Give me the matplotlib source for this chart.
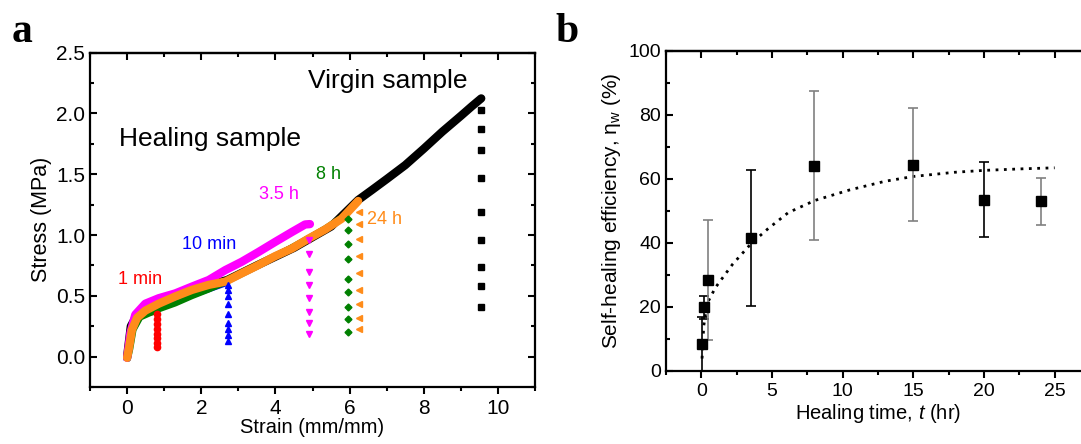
import matplotlib
matplotlib.use('Agg')
import matplotlib.pyplot as plt
from matplotlib.ticker import MultipleLocator
import numpy as np

plt.rcParams['font.family'] = ['Liberation Sans', 'DejaVu Sans']
plt.rcParams['mathtext.fontset'] = 'custom'
plt.rcParams['mathtext.rm'] = 'Liberation Sans'
plt.rcParams['mathtext.it'] = 'Liberation Sans:italic'

# ---- panel a: stress-strain curves ----
virgin_x = [0.0, 0.1, 0.3, 0.6, 1.0, 2.0, 2.7, 3.5, 4.5, 5.5, 6.23, 6.6, 7.0, 7.5, 8.0, 8.5, 9.0, 9.3, 9.55]
virgin_y = [0.0, 0.25, 0.36, 0.42, 0.47, 0.57, 0.63, 0.75, 0.895, 1.07, 1.288, 1.37, 1.46, 1.575, 1.71, 1.85, 1.98, 2.06, 2.124]

blue_x = [-0.05, 0.09, 0.22, 0.49, 0.85, 1.75, 2.65, 2.72]
blue_y = [-0.02, 0.11, 0.277, 0.359, 0.40, 0.495, 0.59, 0.603]

red_x = [0.0, 0.09, 0.22, 0.49, 0.80]
red_y = [-0.01, 0.14, 0.29, 0.345, 0.364]

green_x = [0.03, 0.09, 0.18, 0.36, 0.85, 1.3, 1.75, 2.2, 2.65, 3.09, 3.54, 3.99, 4.44, 4.89, 5.34, 5.78, 6.05]
green_y = [-0.02, 0.06, 0.22, 0.32, 0.386, 0.435, 0.495, 0.549, 0.609, 0.685, 0.761, 0.826, 0.902, 0.978, 1.057, 1.147, 1.228]

magenta_x = [0.0, 0.09, 0.22, 0.49, 0.85, 1.3, 1.75, 2.2, 2.65, 3.09, 3.54, 3.99, 4.44, 4.8, 4.93]
magenta_y = [-0.01, 0.196, 0.345, 0.435, 0.48, 0.52, 0.576, 0.63, 0.712, 0.78, 0.86, 0.943, 1.024, 1.087, 1.09]

orange_x = [0.0, 0.06, 0.13, 0.27, 0.49, 0.85, 1.3, 1.75, 2.2, 2.65, 3.09, 3.54, 3.99, 4.44, 4.89, 5.34, 5.78, 6.23]
orange_y = [-0.01, 0.087, 0.22, 0.32, 0.378, 0.435, 0.495, 0.549, 0.59, 0.617, 0.685, 0.753, 0.826, 0.889, 0.97, 1.046, 1.133, 1.28]

# stress drop after fracture
drop_virgin = [2.03, 1.87, 1.70, 1.47, 1.19, 0.96, 0.74, 0.58, 0.41]
drop_1min = [0.35, 0.31, 0.27, 0.23, 0.19, 0.15, 0.11, 0.08]
drop_10min = [0.59, 0.55, 0.50, 0.43, 0.35, 0.28, 0.23, 0.18, 0.13]
drop_35h = [0.96, 0.84, 0.70, 0.59, 0.48, 0.37, 0.28, 0.19]
drop_8h = [1.13, 1.04, 0.93, 0.80, 0.64, 0.53, 0.41, 0.31, 0.20]
drop_24h = [1.19, 1.09, 0.97, 0.83, 0.69, 0.55, 0.43, 0.32, 0.23]
drop_strain = {'virgin': 9.55, '1min': 0.80, '10min': 2.72, '35h': 4.9, '8h': 5.95, '24h': 6.25}

# ---- panel b: healing efficiency ----
heal_t = [1/60, 10/60, 0.5, 3.5, 8, 15, 20, 24]
heal_eff = [8.4, 19.8, 28.3, 41.5, 64.1, 64.4, 53.5, 52.9]
heal_err = [8.4, 3.6, 18.7, 21.2, 23.4, 17.7, 11.6, 7.3]
err_colors = ['black', 'black', 'gray', 'black', 'gray', 'gray', 'black', 'gray']

fit_t = [0.05, 0.17, 0.41, 1.0, 2.2, 3.54, 4.7, 6.15, 8.03, 10.5, 13, 15, 17.9, 20, 22.8, 25]
fit_eff = [3.8, 14, 21, 26, 33.2, 39.8, 44.3, 49.4, 53.2, 56.5, 59.2, 60.7, 62, 62.6, 63.1, 63.4]

RED, BLUE, MAG, GREEN, ORANGE = '#ff0000', '#0000ff', '#ff00ff', '#008000', '#ff8c1a'

fig = plt.figure(figsize=(10.81, 4.44), dpi=100)

# panel a
ax = fig.add_axes([0.0833, 0.1284, 0.4116, 0.7529])
ax.plot(virgin_x, virgin_y, color='black', lw=6, solid_capstyle='round', solid_joinstyle='round')
ax.plot(blue_x, blue_y, color=BLUE, lw=2.5)
ax.plot(red_x, red_y, color=RED, lw=3)
ax.plot(green_x, green_y, color=GREEN, lw=4, solid_capstyle='round')
ax.plot(magenta_x, magenta_y, color=MAG, lw=6, solid_capstyle='round')
ax.plot(orange_x, orange_y, color=ORANGE, lw=6, solid_capstyle='round')

ax.plot([drop_strain['virgin']] * len(drop_virgin), drop_virgin, 's', color='black', ms=4)
ax.plot([drop_strain['1min']] * len(drop_1min), drop_1min, 'o', color=RED, ms=4.5)
ax.plot([drop_strain['10min']] * len(drop_10min), drop_10min, '^', color=BLUE, ms=4.5)
ax.plot([drop_strain['35h']] * len(drop_35h), drop_35h, 'v', color=MAG, ms=4.5)
ax.plot([drop_strain['8h']] * len(drop_8h), drop_8h, 'D', color=GREEN, ms=3.5)
ax.plot([drop_strain['24h']] * len(drop_24h), drop_24h, '<', color=ORANGE, ms=4.5)

ax.text(4.87, 2.27, 'Virgin sample', fontsize=19, va='center')
ax.text(-0.23, 1.79, 'Healing sample', fontsize=19, va='center')
ax.text(-0.25, 0.635, '1 min', color=RED, fontsize=13, va='center')
ax.text(1.47, 0.926, '10 min', color=BLUE, fontsize=13, va='center')
ax.text(3.55, 1.33, '3.5 h', color=MAG, fontsize=13, va='center')
ax.text(5.1, 1.5, '8 h', color=GREEN, fontsize=13, va='center')
ax.text(6.48, 1.125, '24 h', color=ORANGE, fontsize=13, va='center')

ax.set_xlim(-1, 11)
ax.set_ylim(-0.25, 2.5)
ax.xaxis.set_major_locator(MultipleLocator(2))
ax.xaxis.set_minor_locator(MultipleLocator(1))
ax.yaxis.set_major_locator(MultipleLocator(0.5))
ax.yaxis.set_minor_locator(MultipleLocator(0.25))
ax.set_xlabel('Strain (mm/mm)', fontsize=14.5, labelpad=0)
ax.set_ylabel('Stress (MPa)', fontsize=15.5, labelpad=3)

# panel b
bx = fig.add_axes([0.6161, 0.1651, 0.3922, 0.7207])
bx.plot(fit_t, fit_eff, color='black', lw=2, ls=(0, (1, 2)))
for t, e, s, c in zip(heal_t, heal_eff, heal_err, err_colors):
    bx.errorbar(t, e, yerr=s, fmt='none', ecolor=c, elinewidth=1.2, capsize=3.5, capthick=1.2)
bx.plot(heal_t, heal_eff, 's', color='black', ms=7.5)

bx.set_xlim(-2.5, 27.5)
bx.set_ylim(0, 100)
bx.xaxis.set_major_locator(MultipleLocator(5))
bx.xaxis.set_minor_locator(MultipleLocator(2.5))
bx.yaxis.set_major_locator(MultipleLocator(20))
bx.yaxis.set_minor_locator(MultipleLocator(10))
bx.set_xlabel('Healing time, $t$ (hr)', fontsize=14.5, labelpad=1)
bx.set_ylabel('Self-healing efficiency, η$_\\mathrm{w}$ (%)', fontsize=15, labelpad=4)

for a, ts in ((ax, 15), (bx, 14)):
    for sp in a.spines.values():
        sp.set_linewidth(1.6)
    a.tick_params(axis='x', which='major', direction='out', length=5, width=1.5, labelsize=ts, pad=4)
    a.tick_params(axis='x', which='minor', direction='out', length=3, width=1.5)
    a.tick_params(axis='y', which='major', direction='in', length=5, width=1.5, labelsize=ts, right=True)
    a.tick_params(axis='y', which='minor', direction='in', length=3, width=1.5, right=True)
    top = a.secondary_xaxis('top')
    top.xaxis.set_major_locator(a.xaxis.get_major_locator())
    top.xaxis.set_minor_locator(a.xaxis.get_minor_locator())
    top.tick_params(which='major', direction='in', length=5, width=1.5, labeltop=False)
    top.tick_params(which='minor', direction='in', length=3, width=1.5)
    top.spines['top'].set_linewidth(1.6)

fig.text(0.011, 0.905, 'a', family='Liberation Serif', weight='bold', fontsize=30)
fig.text(0.514, 0.905, 'b', family='Liberation Serif', weight='bold', fontsize=30)

fig.savefig('out.png', dpi=100)
